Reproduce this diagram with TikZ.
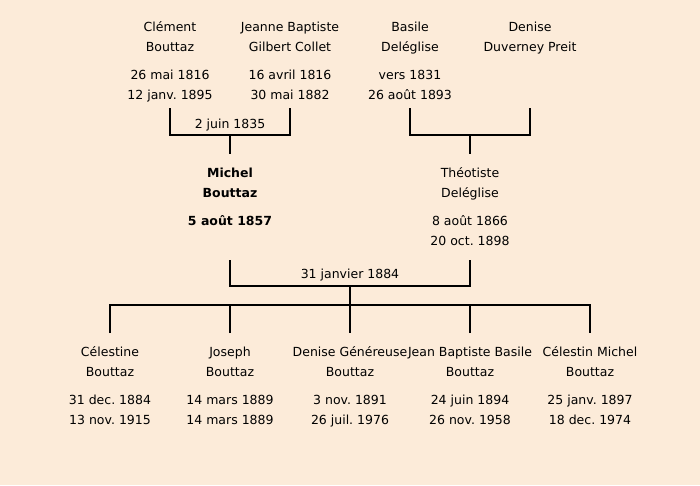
\documentclass[tikz,border=0pt]{standalone}
\usepackage{fontspec}
\setmainfont{DejaVu Sans}
\usetikzlibrary{positioning}

\definecolor{paper}{HTML}{FCEBD9}
\frenchspacing

% one entry of the tree: two name lines, then birth and death
\newcommand{\pentry}[4]{\strut#1\\#2\\[8pt]#3\\#4\strut}

\begin{document}
\begin{tikzpicture}[
    x=1pt, y=-1pt,
    % Define styles
    person/.style={
        anchor=north,
        align=center,
        inner xsep=3pt,
        inner ysep=9pt,
        font=\fontsize{12.5}{20}\selectfont
    },
    parent/.style={
        person,
        inner ysep=3pt
    },
    main/.style={
        person,
        font=\fontsize{12.5}{20}\selectfont\bfseries
    },
    wedding/.style={
        font=\fontsize{12.5}{20}\selectfont,
        inner sep=1pt
    },
    tie/.style={draw=black, line width=2pt}
]

% Background
\fill[paper] (0,0) rectangle (700,485);

% Grandparents
\node[parent] (clement) at (170,14) {\pentry{Clément}{Bouttaz}{26 mai 1816}{12 janv. 1895}};
\node[parent] (jeanne) at (290,14) {\pentry{Jeanne Baptiste}{Gilbert Collet}{16 avril 1816}{30 mai 1882}};
\node[parent] (basile) at (410,14) {\pentry{Basile}{Deléglise}{vers 1831}{26 août 1893}};
\node[parent] (denise) at (530,14) {\pentry{Denise}{Duverney Preit}{}{}};

% Their marriages
\coordinate (m1) at (230,135);
\coordinate (m2) at (470,135);
\draw[tie] (clement.south) |- (m1) -| (jeanne.south);
\draw[tie] (basile.south) |- (m2) -| (denise.south);
\node[wedding] (w1) at (230,125) {2 juin 1835};

% Couple
\node[main] (michel) at (230,154) {\pentry{Michel}{Bouttaz}{5 août 1857}{}};
\node[person] (theotiste) at (470,154) {\pentry{Théotiste}{Deléglise}{8 août 1866}{20 oct. 1898}};
\draw[tie] (m1) -- (michel.north);
\draw[tie] (m2) -- (theotiste.north);

\coordinate (m3) at (350,286);
\draw[tie] (michel.south) |- (m3) -| (theotiste.south);
\node[wedding] (w3) at (350,275) {31 janvier 1884};

% Children
\coordinate (kids) at (350,305);
\node[person] (celestine) at (110,333) {\pentry{Célestine}{Bouttaz}{31 dec. 1884}{13 nov. 1915}};
\node[person] (joseph) at (230,333) {\pentry{Joseph}{Bouttaz}{14 mars 1889}{14 mars 1889}};
\node[person] (genereuse) at (350,333) {\pentry{Denise Généreuse}{Bouttaz}{3 nov. 1891}{26 juil. 1976}};
\node[person] (jeanbaptiste) at (470,333) {\pentry{Jean Baptiste Basile}{Bouttaz}{24 juin 1894}{26 nov. 1958}};
\node[person] (celestin) at (590,333) {\pentry{Célestin Michel}{Bouttaz}{25 janv. 1897}{18 dec. 1974}};

\draw[tie] (m3) -- (genereuse.north);
\draw[tie] (celestine.north) |- (kids) -| (celestin.north);
\foreach \k in {joseph,jeanbaptiste}
    \draw[tie] (\k.north) -- (\k.north |- kids);

\end{tikzpicture}
\end{document}
